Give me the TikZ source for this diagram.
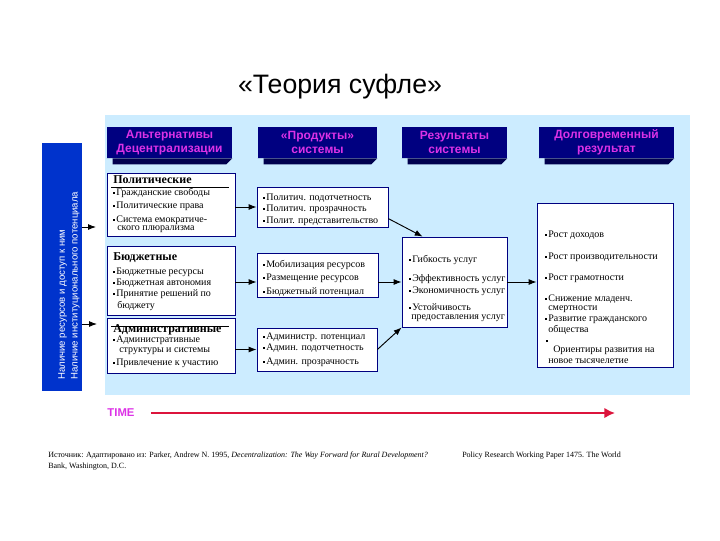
\documentclass[tikz,border=0pt]{standalone}
\usepackage{fontspec}
\setmainfont{Liberation Serif}
\setsansfont{Liberation Sans}
\usepackage{tikz}
\usetikzlibrary{positioning}
\usetikzlibrary{arrows.meta}

\definecolor{bgBlue}{RGB}{204,236,255}
\definecolor{barBlue}{RGB}{0,51,204}
\definecolor{hdrNavy}{RGB}{0,0,128}
\definecolor{hdrDark}{RGB}{0,0,78}
\definecolor{hdrText}{RGB}{220,50,230}
\definecolor{boxLine}{RGB}{0,0,128}
\definecolor{timeRed}{RGB}{220,20,60}

\newcommand{\blt}{\rule[0.35ex]{1.3pt}{1.3pt}\hspace{1pt}}

\tikzset{
	hdrbox/.style={fill=hdrNavy, inner sep=0pt, minimum height=23.25pt, align=center,
		text=hdrText, font=\sffamily\bfseries\fontsize{9}{10.5}\selectfont},
	hdrbevel/.style={fill=hdrDark},
	itembox/.style={draw=boxLine, fill=white, line width=0.6pt, inner sep=0pt},
	itemtxt/.style={anchor=west, inner sep=0pt, font=\fontsize{7.5}{8}\selectfont},
	boxtitle/.style={anchor=west, inner sep=0pt, font=\bfseries\fontsize{9}{10}\selectfont},
	srctxt/.style={anchor=west, inner sep=0pt, font=\fontsize{6}{6.5}\selectfont},
	conn/.style={line width=0.7pt, -{Latex[length=6pt,width=4.5pt]}},
}

\begin{document}
\begin{tikzpicture}[x=0.75pt, y=-0.75pt]
		
		% ---------------------
		% Proper size --- Bounding box
		\useasboundingbox (0,0) rectangle (720,540);
		
		% ---------------------
		% Title & background
		\node[font=\sffamily\fontsize{20}{24}\selectfont, inner sep=0pt] (title) at (340,87) {«Теория суфле»};
		\fill[bgBlue] (105,115) rectangle (690,395);
		
		% ---------------------
		% Vertical bar
		\node[fill=barBlue, minimum width=30pt, minimum height=186pt, inner sep=0pt] (vbar) at (62,267) {};
		\node[rotate=90, anchor=north west, align=left, inner sep=0pt, text=white,
			font=\sffamily\fontsize{7.2}{9.5}\selectfont] (vbarTxt) at (58,380)
			{Наличие ресурсов и доступ к ним\\Наличие институционального потенциала};
		\coordinate (barTip1) at (96,227);
		\coordinate (barTip2) at (97,324);
		\draw[conn] (vbar.east |- barTip1) -- (barTip1);
		\draw[conn] (vbar.east |- barTip2) -- (barTip2);
		
		% ---------------------
		% Headers
		\node[hdrbox, minimum width=93.75pt] (hdrAlt) at (169.5,142.5) {Альтернативы\\Децентрализации};
		\node[hdrbox, minimum width=89.25pt] (hdrProd) at (317.5,142.5) {«Продукты»\\системы};
		\node[hdrbox, minimum width=78.75pt] (hdrRes) at (454.5,142.5) {Результаты\\системы};
		\node[hdrbox, minimum width=101.25pt] (hdrLong) at (606.5,142.5) {Долговременный\\результат};
		\foreach \h in {hdrAlt,hdrProd,hdrRes,hdrLong}
			\fill[hdrbevel] (\h.south west) -- (\h.south east) -- ++(-6,6) -| ([xshift=4.5pt]\h.south west) -- cycle;
		
		% ---------------------
		% Alternatives
		\node[itembox, minimum width=96pt, minimum height=47.25pt] (polBox) at (171,204.5) {};
		\node[itembox, minimum width=96pt, minimum height=51.75pt] (budBox) at (171,280.5) {};
		\node[itembox, minimum width=96pt, minimum height=41.25pt] (admBox) at (171,345.5) {};
		
		\node[boxtitle] (polTitle) at (113,180) {Политические};
		\draw[line width=0.5pt] (111,187) -- (229,187);
		\foreach \yy/\txt [count=\i] in {193/Гражданские свободы, 206/Политические права, 220/Система емократиче-}
			\node[itemtxt] (pol-\i) at (113,\yy) {\blt\txt};
		\node[itemtxt] (pol-4) at (117,229) {ского плюрализма};
		
		\node[boxtitle] (budTitle) at (113,258) {Бюджетные};
		\foreach \yy/\txt [count=\i] in {272/Бюджетные ресурсы, 283/Бюджетная автономия, 294/Принятие решений по}
			\node[itemtxt] (bud-\i) at (113,\yy) {\blt\txt};
		\node[itemtxt] (bud-4) at (117,306) {бюджету};
		
		\node[boxtitle] (admTitle) at (113,330) {Административные};
		\draw[line width=0.5pt] (111,326) -- (229,326);
		\foreach \yy/\txt [count=\i] in {340/Административные, 363/Привлечение к участию}
			\node[itemtxt] (adm-\i) at (113,\yy) {\blt\txt};
		\node[itemtxt] (adm-3) at (119,351) {структуры и системы};
		
		% ---------------------
		% Products
		\node[itembox, minimum width=98.25pt, minimum height=30pt] (prod1) at (322.5,207) {};
		\node[itembox, minimum width=90.75pt, minimum height=33pt] (prod2) at (317.5,275) {};
		\node[itembox, minimum width=90pt, minimum height=32.25pt] (prod3) at (317,349.5) {};
		
		\foreach \yy/\txt [count=\i] in {198/Политич. подотчетность, 209/Политич. прозрачность, 221/Полит. представительство}
			\node[itemtxt] (pr1-\i) at (263,\yy) {\blt\txt};
		\foreach \yy/\txt [count=\i] in {265/Мобилизация ресурсов, 278/Размещение ресурсов, 292/Бюджетный потенциал}
			\node[itemtxt] (pr2-\i) at (263,\yy) {\blt\txt};
		\foreach \yy/\txt [count=\i] in {337/Администр. потенциал, 348/Админ. подотчетность, 362/Админ. прозрачность}
			\node[itemtxt] (pr3-\i) at (263,\yy) {\blt\txt};
		
		% ---------------------
		% Results
		\node[itembox, minimum width=78.75pt, minimum height=67.5pt] (resBox) at (454.5,282) {};
		\foreach \yy/\txt [count=\i] in {260/Гибкость услуг, 279/Эффективность услуг, 291/Экономичность услуг, 307/Устойчивость}
			\node[itemtxt] (res-\i) at (409,\yy) {\blt\txt};
		\node[itemtxt] (res-5) at (411,318) {предоставления услуг};
		
		% ---------------------
		% Long term
		\node[itembox, minimum width=102pt, minimum height=123pt] (longBox) at (605,285) {};
		\foreach \yy/\txt [count=\i] in {235/Рост доходов, 257/Рост производительности, 278/Рост грамотности, 299/Снижение младенч., 319/Развитие гражданского}
			\node[itemtxt] (lng-\i) at (545,\yy) {\blt\txt};
		\node[itemtxt] (lng-6) at (548,309) {смертности};
		\node[itemtxt] (lng-7) at (548,330) {общества};
		\node[itemtxt] (lng-8) at (546,342) {\blt};
		\node[itemtxt] (lng-9) at (553,350) {Ориентиры развития на};
		\node[itemtxt] (lng-10) at (548,361) {новое тысячелетие};
		
		% ---------------------
		% Connectors
		\draw[conn] (polBox.east |- prod1.west) -- (prod1.west);
		\draw[conn] (budBox.east |- resBox.west) -- (budBox.east |- resBox.west -| prod2.west);
		\draw[conn] (admBox.east |- prod3.west) -- (prod3.west);
		\draw[conn] (prod1.-10) -- (resBox.125);
		\draw[conn] (prod2.east |- resBox.west) -- (resBox.west);
		\draw[conn] (prod3.east) -- (resBox.south west);
		\draw[conn] (resBox.east) -- (resBox.east -| longBox.west);
		
		% ---------------------
		% Time axis
		\node[font=\sffamily\bfseries\fontsize{8.5}{10}\selectfont, text=hdrText, inner sep=0pt] (time) at (121,413) {TIME};
		\coordinate (timeEnd) at (615,413);
		\draw[timeRed, line width=2pt, -{Latex[length=8pt,width=8pt]}] ([xshift=12pt]time.east) -- (timeEnd);
		
		% ---------------------
		% Source
		\node[srctxt] (src1) at (48,456)
			{Источник: Адаптировано из: Parker, Andrew N. 1995, \textit{Decentralization: The Way Forward for Rural Development?}};
		\node[srctxt] (src2) at (462,456) {Policy Research Working Paper 1475. The World};
		\node[srctxt] (src3) at (48,467) {Bank, Washington, D.C.};
		
\end{tikzpicture}
\end{document}
